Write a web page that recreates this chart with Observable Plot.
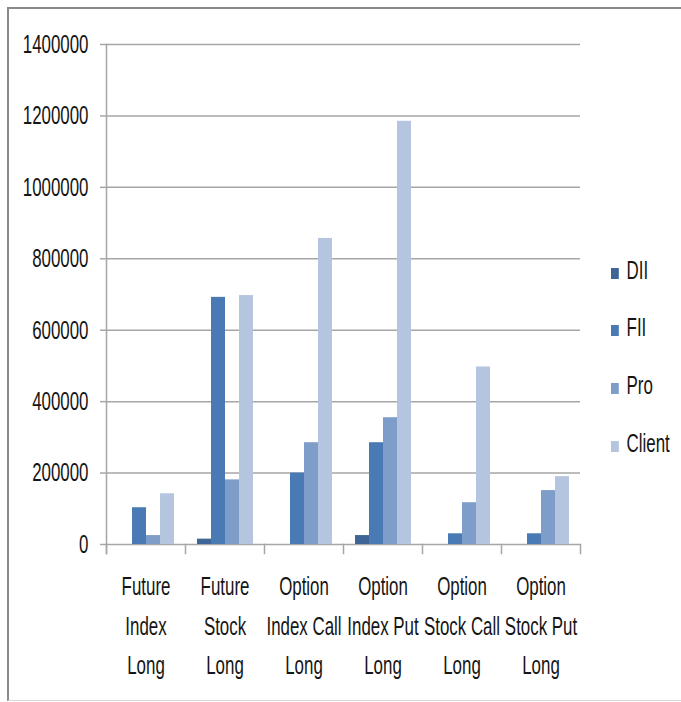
<!DOCTYPE html>
<html><head><meta charset="utf-8">
<script src="https://cdn.jsdelivr.net/npm/d3@7"></script>
<script src="https://cdn.jsdelivr.net/npm/@observablehq/plot@0.6"></script>
<style>
body{margin:0;background:#fff;}
#wrap{position:relative;width:681px;height:702px;overflow:hidden;font-family:"Liberation Sans",Arial,sans-serif;}
#border{position:absolute;left:7px;top:7px;width:700px;height:691px;border-top:2px solid #8a8a8a;border-left:2px solid #8a8a8a;border-bottom:1px solid #d8d8d8;}
#chart{position:absolute;left:0;top:0;}
#legend{position:absolute;left:611px;top:0;}
.item{position:absolute;left:0;white-space:nowrap;font-size:26px;line-height:26px;color:#151515;transform:scaleX(0.65);transform-origin:0 50%;}
.sw{display:inline-block;width:12px;height:11px;margin-right:12px;vertical-align:0px;}
</style></head>
<body><div id="wrap"><div id="border"></div><div id="chart"></div><div id="legend"></div></div>
<script>
const categories = ["Future Index Long","Future Stock Long","Option Index Call Long","Option Index Put Long","Option Stock Call Long","Option Stock Put Long"];
const labelLines = [["Future","Index","Long"],["Future","Stock","Long"],["Option","Index Call","Long"],["Option","Index Put","Long"],["Option","Stock Call","Long"],["Option","Stock Put","Long"]];
const series = ["DII","FII","Pro","Client"];
const dii    = [0, 15000, 0, 25000, 0, 0];
const fii    = [103000, 692000, 200000, 285000, 30000, 30000];
const pro    = [25000, 181000, 285000, 355000, 117000, 151000];
const client = [142000, 697000, 857000, 1185000, 497000, 190000];
const colors = ["#3E6596","#4A7AB3","#7F9DC9","#B5C4DF"];
const yTicks = [0,200000,400000,600000,800000,1000000,1200000,1400000];

const seriesValues = [dii, fii, pro, client];
const rows = [];
categories.forEach((c, i) => series.forEach((s, j) => rows.push({cat: c, series: s, value: seriesValues[j][i]})));

const W = 681, H = 702, mL = 104, mR = 99, mT = 44, mB = 158;
const grid = "#a6a6a6";
const textScale = 0.65;
const plot = Plot.plot({
  width: W, height: H, marginLeft: mL, marginRight: mR, marginTop: mT, marginBottom: mB,
  style: {fontFamily: '"Liberation Sans",Arial,sans-serif', fontSize: "26px", color: "#151515", background: "transparent"},
  fx: {domain: categories, padding: 0, label: null},
  x: {domain: series, paddingInner: 0, paddingOuter: 0.79, axis: null},
  y: {domain: [0, 1400000], label: null, axis: null},
  color: {domain: series, range: colors},
  marks: [
    Plot.ruleY(yTicks, {stroke: grid, strokeWidth: 1.5}),
    Plot.barY(rows, {fx: "cat", x: "series", y: "value", fill: "series"}),
    Plot.frame({anchor: "left", facet: "super", stroke: grid, strokeWidth: 1.5, insetBottom: -9}),
    Plot.frame({anchor: "left", stroke: grid, strokeWidth: 1.5, insetTop: H - mT - mB, insetBottom: -9}),
    Plot.frame({anchor: "right", facet: "super", stroke: grid, strokeWidth: 1.5, insetTop: H - mT - mB, insetBottom: -9}),
    Plot.axisY({ticks: yTicks, tickFormat: d => String(d), tickSize: 6, tickPadding: 12, stroke: grid, strokeWidth: 1.5, strokeOpacity: 1, label: null}),
    Plot.axisFx({anchor: "bottom", tickSize: 0, tickPadding: 23, tickFormat: c => labelLines[categories.indexOf(c)].join("\n"), lineHeight: 1.51, label: null})
  ]
});
// condense the lettering horizontally around each label's anchor point
plot.querySelectorAll("text").forEach(t => {
  const tr = t.getAttribute("transform") || "";
  t.setAttribute("transform", (tr + ` scale(${textScale},1)`).trim());
});
document.getElementById("chart").appendChild(plot);

const legend = document.getElementById("legend");
const legendY = [257, 314, 372, 430];
series.forEach((s, i) => {
  const d = document.createElement("div");
  d.className = "item";
  d.style.top = legendY[i] + "px";
  d.innerHTML = `<span class="sw" style="background:${colors[i]}"></span>${s}`;
  legend.appendChild(d);
});
</script>
</body></html>
